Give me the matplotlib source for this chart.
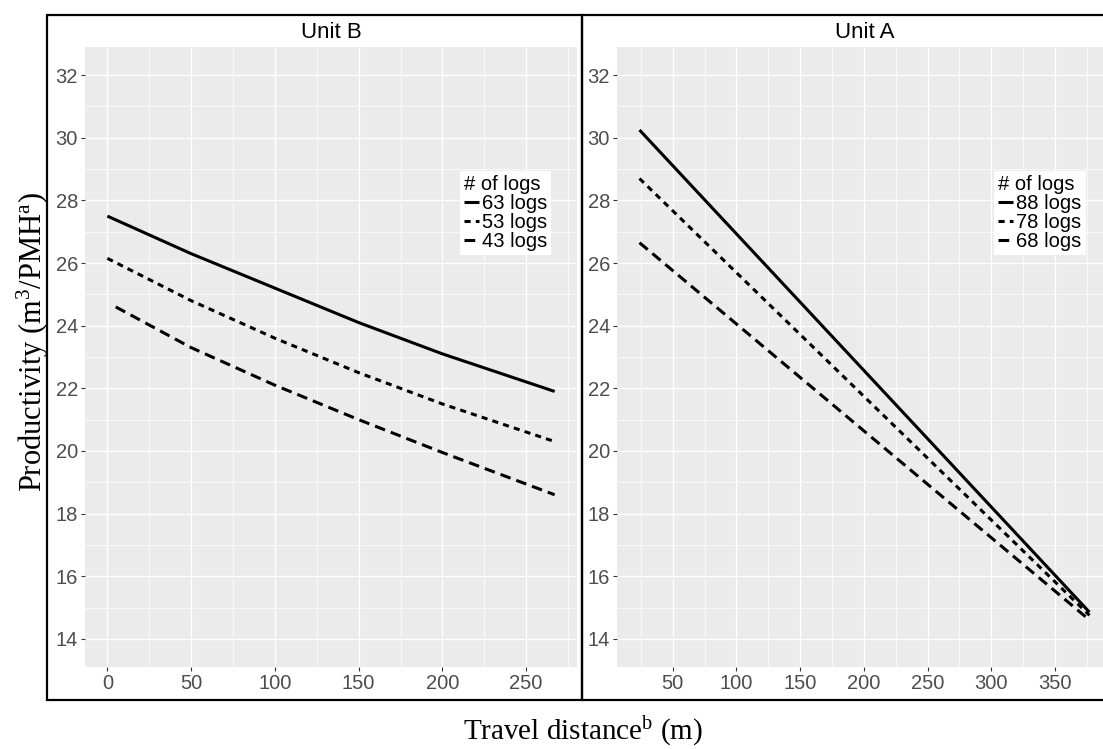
import matplotlib
matplotlib.use("Agg")
import matplotlib.pyplot as plt
from matplotlib.patches import Rectangle
from matplotlib.ticker import MultipleLocator, AutoMinorLocator

plt.rcParams['font.family'] = ['Liberation Sans', 'DejaVu Sans']
plt.rcParams['mathtext.fontset'] = 'custom'
plt.rcParams['mathtext.rm'] = 'Liberation Serif'
plt.rcParams['mathtext.it'] = 'Liberation Serif'

# Unit B (left panel)
b_labels = ["63 logs", "53 logs", "43 logs"]
b_x = [[0, 50, 100, 150, 200, 267],
       [0, 50, 100, 150, 200, 267],
       [5, 50, 100, 150, 200, 267]]
b_y = [[27.5, 26.3, 25.2, 24.1, 23.1, 21.9],
       [26.15, 24.8, 23.6, 22.5, 21.5, 20.3],
       [24.6, 23.3, 22.1, 21.0, 19.95, 18.6]]

# Unit A (right panel)
a_labels = ["88 logs", "78 logs", "68 logs"]
a_x = [[24, 377], [24, 377], [24, 377]]
a_y = [[30.25, 14.85], [28.7, 14.75], [26.65, 14.6]]

styles = [dict(linestyle='-'),
          dict(dashes=(2.0, 1.7)),
          dict(dashes=(3.5, 2.0))]

W, H = 1103, 749
fig = plt.figure(figsize=(W / 100, H / 100), dpi=100)


def px_axes(x0, y0, x1, y1):
    return fig.add_axes([x0 / W, 1 - y1 / H, (x1 - x0) / W, (y1 - y0) / H])


def style_panel(ax, xs, ys, labels, xlim, xmajor):
    ax.set_facecolor('#EBEBEB')
    for x, y, lab, st in zip(xs, ys, labels, styles):
        ax.plot(x, y, color='black', lw=2.2, solid_capstyle='butt',
                dash_capstyle='butt', label=lab, **st)
    ax.set_xlim(*xlim)
    ax.set_ylim(13.1, 32.9)
    ax.xaxis.set_major_locator(xmajor)
    ax.xaxis.set_minor_locator(AutoMinorLocator(2))
    ax.yaxis.set_major_locator(MultipleLocator(2))
    ax.yaxis.set_minor_locator(AutoMinorLocator(2))
    ax.grid(which='major', color='white', lw=1.0)
    ax.grid(which='minor', color='white', lw=0.5)
    ax.set_axisbelow(True)
    for s in ax.spines.values():
        s.set_visible(False)
    ax.tick_params(which='major', length=3, width=0.8, color='#333333',
                   labelcolor='#4D4D4D', labelsize=14.5, pad=2)
    ax.tick_params(which='minor', length=0)
    leg = ax.legend(title="# of logs", loc='upper left',
                    bbox_to_anchor=(0.762, 0.8), fontsize=14.5, title_fontsize=14.5,
                    handlelength=0.75, handletextpad=0.15, labelspacing=0.0,
                    borderpad=0.2, borderaxespad=0, fancybox=False,
                    framealpha=1, edgecolor='white')
    leg.get_frame().set_linewidth(0)
    leg._legend_box.align = 'left'


ax1 = px_axes(85, 47, 577, 667)
style_panel(ax1, b_x, b_y, b_labels, (-13.35, 280.35), MultipleLocator(50))
ax2 = px_axes(617, 47, 1112, 667)
style_panel(ax2, a_x, a_y, a_labels, (6.35, 394.65), MultipleLocator(50))

# strip titles
fig.text(331 / W, 1 - 32 / H, "Unit B", ha='center', va='center', fontsize=16)
fig.text(865 / W, 1 - 32 / H, "Unit A", ha='center', va='center', fontsize=16)

# boxes around each facet
for x0, x1 in [(47, 582), (582, 1120)]:
    fig.patches.append(Rectangle((x0 / W, 1 - 700 / H), (x1 - x0) / W, 685 / H,
                                 transform=fig.transFigure, fill=False,
                                 edgecolor='black', lw=1.6, zorder=5))

fig.text(33 / W, 1 - 342 / H, r"Productivity (m$^{3}$/PMH$^{\mathrm{a}}$)",
         rotation=90, ha='center', va='center', fontsize=22,
         family='Liberation Serif')
fig.text(583 / W, 1 - 731 / H, r"Travel distance$^{\mathrm{b}}$ (m)",
         ha='center', va='center', fontsize=21, family='Liberation Serif')

fig.savefig("out.png", dpi=100, facecolor='white')
